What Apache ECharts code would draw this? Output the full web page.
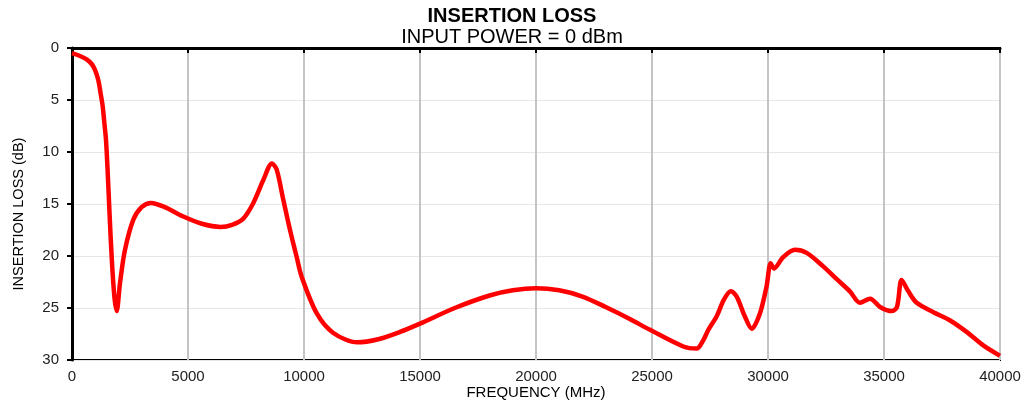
<!DOCTYPE html>
<html>
<head>
<meta charset="utf-8">
<script src="https://cdn.jsdelivr.net/npm/echarts@6/dist/echarts.min.js"></script>
<style>
html, body { margin: 0; padding: 0; background: #fff; }
#chart { width: 1024px; height: 404px; }
</style>
</head>
<body>
<div id="chart"></div>
<script>
var freq = [0, 345, 633, 849, 991, 1135, 1236, 1322, 1394, 1466, 1540, 1620, 1720, 1830, 1927, 2069, 2284, 2644, 3000, 3400, 4000, 4800, 5600, 6400, 6900, 7384, 7816, 8246, 8620, 8823, 9108, 9397, 9685, 9900, 10546, 11264, 12300, 13200, 14138, 15000, 16500, 18000, 19000, 20000, 21000, 22000, 23000, 24000, 24914, 26350, 26925, 27210, 27428, 27788, 28100, 28400, 28650, 29000, 29297, 29655, 29940, 30116, 30258, 30660, 31160, 31667, 32380, 33000, 33530, 33966, 34400, 34830, 35330, 35560, 35760, 36050, 36410, 37130, 37850, 38560, 39280, 40000];
var loss = [0.5, 0.77, 1.09, 1.54, 2.1, 3.1, 4.4, 5.6, 7.2, 8.85, 12.0, 16.0, 20.5, 24.0, 25.3, 22.6, 19.4, 16.5, 15.3, 14.9, 15.3, 16.2, 16.9, 17.2, 17.0, 16.4, 14.9, 12.7, 11.1, 11.7, 14.6, 17.5, 20.1, 22.0, 25.5, 27.4, 28.3, 28.0, 27.3, 26.5, 25.0, 23.8, 23.3, 23.1, 23.3, 23.9, 24.9, 26.0, 27.1, 28.7, 28.9, 28.1, 27.1, 25.8, 24.2, 23.4, 23.9, 25.8, 27.0, 25.5, 22.9, 20.7, 21.2, 20.1, 19.4, 19.7, 21.0, 22.3, 23.4, 24.5, 24.1, 24.9, 25.3, 24.9, 22.3, 23.4, 24.5, 25.4, 26.2, 27.3, 28.6, 29.6];

var points = [];
for (var i = 0; i < freq.length; i++) {
    points.push([freq[i], loss[i]]);
}

var myChart = echarts.init(document.getElementById('chart'));
var option = {
    animation: false,
    textStyle: { fontFamily: 'Liberation Sans, Arial, sans-serif' },
    title: {
        text: 'INSERTION LOSS',
        subtext: 'INPUT POWER = 0 dBm',
        left: 'center',
        top: 1,
        itemGap: 1,
        textStyle: { fontSize: 20, fontWeight: 'bold', color: '#000' },
        subtextStyle: { fontSize: 20, color: '#000' }
    },
    grid: {
        left: 72,
        right: 24,
        top: 48,
        bottom: 44,
        outerBoundsMode: 'none',
        show: true,
        borderColor: '#000',
        borderWidth: 2
    },
    xAxis: {
        type: 'value',
        min: 0,
        max: 40000,
        interval: 5000,
        name: 'FREQUENCY (MHz)',
        nameLocation: 'middle',
        nameGap: 25,
        nameMoveOverlap: false,
        nameTextStyle: { fontSize: 15, color: '#000' },
        axisLine: { lineStyle: { color: '#000', width: 3 } },
        axisTick: { lineStyle: { color: '#000', width: 2 }, length: 5 },
        axisLabel: {
            fontSize: 15,
            color: '#222',
            margin: 9,
            formatter: function (v) { return String(v); }
        },
        splitLine: { show: true, lineStyle: { color: '#c4c4c4', width: 2 } }
    },
    yAxis: {
        type: 'value',
        inverse: true,
        min: 0,
        max: 30,
        interval: 5,
        name: 'INSERTION LOSS (dB)',
        nameLocation: 'middle',
        nameGap: 46,
        nameMoveOverlap: false,
        nameTextStyle: { fontSize: 14.5, color: '#000', padding: [0, 20, 0, 0] },
        axisLine: { show: true, lineStyle: { color: '#000', width: 3 } },
        axisTick: { show: true, lineStyle: { color: '#000', width: 2 }, length: 5 },
        axisLabel: { fontSize: 15, color: '#222', margin: 13 },
        splitLine: { show: true, lineStyle: { color: '#e6e6e6', width: 1 } }
    },
    series: [
        {
            name: 'Insertion loss',
            type: 'line',
            data: points,
            smooth: 0.3,
            showSymbol: false,
            lineStyle: { color: '#ff0000', width: 4.5 },
            itemStyle: { color: '#ff0000' }
        }
    ]
};
myChart.setOption(option, true);
</script>
</body>
</html>
